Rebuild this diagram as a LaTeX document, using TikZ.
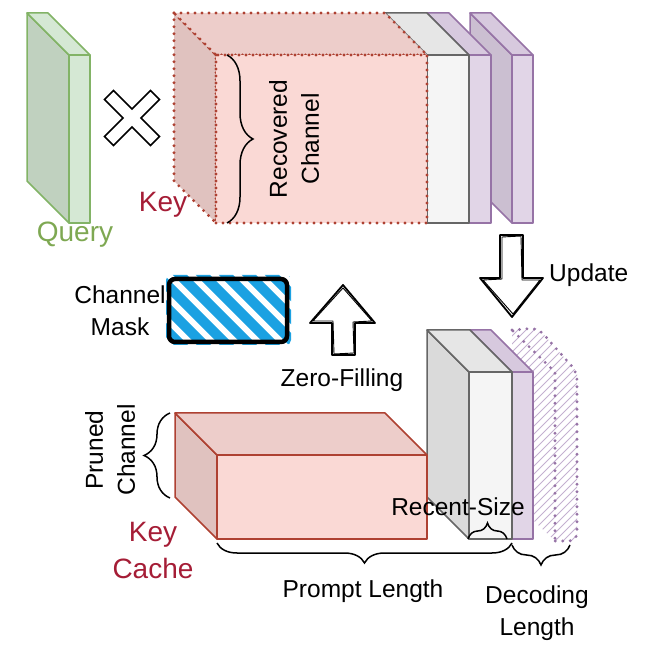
\documentclass[tikz,border=0pt]{standalone}
\usepackage{fontspec}
\setmainfont{Liberation Sans}
\usetikzlibrary{decorations.pathreplacing}
\definecolor{gfill}{HTML}{D5E8D4}\definecolor{gside}{HTML}{C0D1BF}\definecolor{gline}{HTML}{82B366}
\definecolor{rfill}{HTML}{FAD9D5}\definecolor{rtop}{HTML}{EDCDCA}\definecolor{rside}{HTML}{E0C2BF}\definecolor{rline}{HTML}{AE4132}
\definecolor{pfill}{HTML}{E1D5E7}\definecolor{ptop}{HTML}{D7C9DE}\definecolor{pside}{HTML}{CBBFD1}\definecolor{pline}{HTML}{9673A6}
\definecolor{kfill}{HTML}{F5F5F5}\definecolor{ktop}{HTML}{E6E6E6}\definecolor{kside}{HTML}{DADADA}\definecolor{kline}{HTML}{666666}
\definecolor{lblred}{HTML}{A51D36}\definecolor{lblgreen}{HTML}{7EA852}
\definecolor{maskblue}{HTML}{1BA1E2}\definecolor{hatchp}{HTML}{C4B0D0}
% cube: x0 y0 (front top-left), w, h, d, front fill, top fill, side fill, line style
\newcommand{\drawcube}[9]{%
  \filldraw[#9, fill=#8] (#1-#5,#2-#5) -- (#1,#2) -- (#1,#2+#4) -- (#1-#5,#2+#4-#5) -- cycle;
  \filldraw[#9, fill=#7] (#1-#5,#2-#5) -- (#1+#3-#5,#2-#5) -- (#1+#3,#2) -- (#1,#2) -- cycle;
  \filldraw[#9, fill=#6] (#1,#2) rectangle (#1+#3,#2+#4);
}
\tikzset{
  solidg/.style={draw=gline, line width=1.5, line join=round},
  solidr/.style={draw=rline, line width=1.5, line join=round},
  solidp/.style={draw=pline, line width=1.5, line join=round},
  solidk/.style={draw=kline, line width=1.5, line join=round},
  dotr/.style={draw=rline, line width=3.2, line cap=round, dash pattern=on 0pt off 7pt},
  dotp/.style={draw=pline, line width=3.2, line cap=round, dash pattern=on 0pt off 7.5pt},
  lbl/.style={inner sep=0, align=center, font=\fontsize{24.5}{32}\selectfont},
  biglbl/.style={inner sep=0, align=center, font=\fontsize{28}{37}\selectfont},
  brc/.style={decorate, draw=black, line width=1.5},
  sketch/.style={draw=black, fill=white, line width=1.8, line join=round},
  sketchb/.style={draw=black, line width=0.9, line join=round},
}
\begin{document}
\begin{tikzpicture}[x=1pt, y=-1pt]
\useasboundingbox (0,0) rectangle (665,655);

% ---------- top row ----------
% Query slab
\drawcube{69}{55}{21}{168}{42}{gfill}{gfill}{gside}{solidg}
% cross
\begin{scope}[shift={(132,118)}, rotate=45]
  \filldraw[draw=black, fill=white, line width=1.6, line join=miter]
    (6.4,6.4) -- (32.5,6.4) -- (32.5,-6.4) -- (6.4,-6.4) -- (6.4,-32.5) -- (-6.4,-32.5)
    -- (-6.4,-6.4) -- (-32.5,-6.4) -- (-32.5,6.4) -- (-6.4,6.4) -- (-6.4,32.5) -- (6.4,32.5) -- cycle;
\end{scope}
% purple slab 2, purple slab 1, gray, key (dotted)
\drawcube{512}{55}{21}{168}{42}{pfill}{ptop}{pside}{solidp}
\drawcube{469}{55}{22}{168}{42}{pfill}{ptop}{pside}{solidp}
\drawcube{427}{55}{42}{168}{42}{kfill}{ktop}{kside}{solidk}
\drawcube{216}{55}{211}{168}{42}{rfill}{rtop}{rside}{dotr}

\coordinate (rcA) at (227,55);
\coordinate (rcB) at (227,223);
\draw[brc, decoration={brace, amplitude=26}] (rcA) -- (rcB);
\node[lbl, rotate=90] (recov) at (294,139) {Recovered\\Channel};
\node[biglbl, text=lblred] (keytop) at (163,205) {Key};
\node[biglbl, text=lblgreen] (query) at (75,235) {Query};

% ---------- update arrow ----------
\filldraw[sketch] (500,235) -- (523,235) -- (523,278) -- (543,278) -- (512,317) -- (480,278) -- (500,278) -- cycle;
\draw[sketchb] (502,237) -- (521,236) -- (522,280) -- (540,280) -- (513,314) -- (483,280) -- (502,279) -- cycle;
\node[lbl, anchor=west] (update) at (549,275) {Update};

% ---------- channel mask ----------
\begin{scope}
  \clip[rounded corners=5] (166,275) rectangle (291,345);
  \foreach \s in {40,63,...,320} {
    \draw[maskblue, line width=10] (\s,250) -- (\s+120,370);
  }
\end{scope}
\draw[draw=black, line width=4.5, rounded corners=6, line join=round] (169,279) rectangle (287,342);
\node[lbl] (mask) at (120,311) {Channel\\Mask};

% ---------- zero-filling arrow ----------
\filldraw[sketch] (343,285) -- (375,323) -- (355,323) -- (355,355) -- (332,355) -- (332,323) -- (310,323) -- cycle;
\draw[sketchb] (343,288) -- (372,321) -- (353,322) -- (354,353) -- (334,354) -- (333,321) -- (313,321) -- cycle;
\node[lbl] (zero) at (342,380) {Zero-Filling};

% ---------- bottom row ----------
% hatched dotted (future) slab
\begin{scope}
  \clip (512,330) -- (538,328) -- (577,372) -- (577,541) -- (555,541) -- (512,500) -- cycle;
  \foreach \s in {500,508,...,900} {
    \draw[hatchp, line width=0.8] (\s,300) -- (\s-300,600);
  }
\end{scope}
\draw[dotp, rounded corners=8] (512,330) -- (538,328) -- (577,372) -- (577,541) -- (555,541);
\draw[dotp] (513,331) -- (555,372) -- (555,541);

\drawcube{512}{372}{21}{167}{42}{pfill}{ptop}{pside}{solidp}
\drawcube{469}{372}{43}{167}{42}{kfill}{ktop}{kside}{solidk}
\drawcube{217}{455}{210}{84}{42}{rfill}{rtop}{rside}{solidr}

% braces
\coordinate (pcA) at (170,498);
\coordinate (pcB) at (170,413);
\draw[brc, decoration={brace, amplitude=26}] (pcA) -- (pcB);
\node[lbl, rotate=90, fill=white, inner sep=1] (pruned) at (110,450) {Pruned\\Channel};

\coordinate (rsA) at (468,539);
\coordinate (rsB) at (507,539);
\draw[brc, decoration={brace, amplitude=16}] (rsA) -- (rsB);
\node[lbl] (recent) at (458,507) {Recent-Size};

\coordinate (plA) at (512,543);
\coordinate (plB) at (217,543);
\draw[brc, decoration={brace, amplitude=20}] (plA) -- (plB);
\node[lbl] (prompt) at (363,591) {Prompt Length};

\coordinate (dlA) at (570,545);
\coordinate (dlB) at (512,545);
\draw[brc, decoration={brace, amplitude=20}] (dlA) -- (dlB);
\node[lbl] (decoding) at (537,613) {Decoding\\Length};

\node[biglbl, text=lblred] (keycache) at (153,551) {Key\\Cache};
\end{tikzpicture}
\end{document}
